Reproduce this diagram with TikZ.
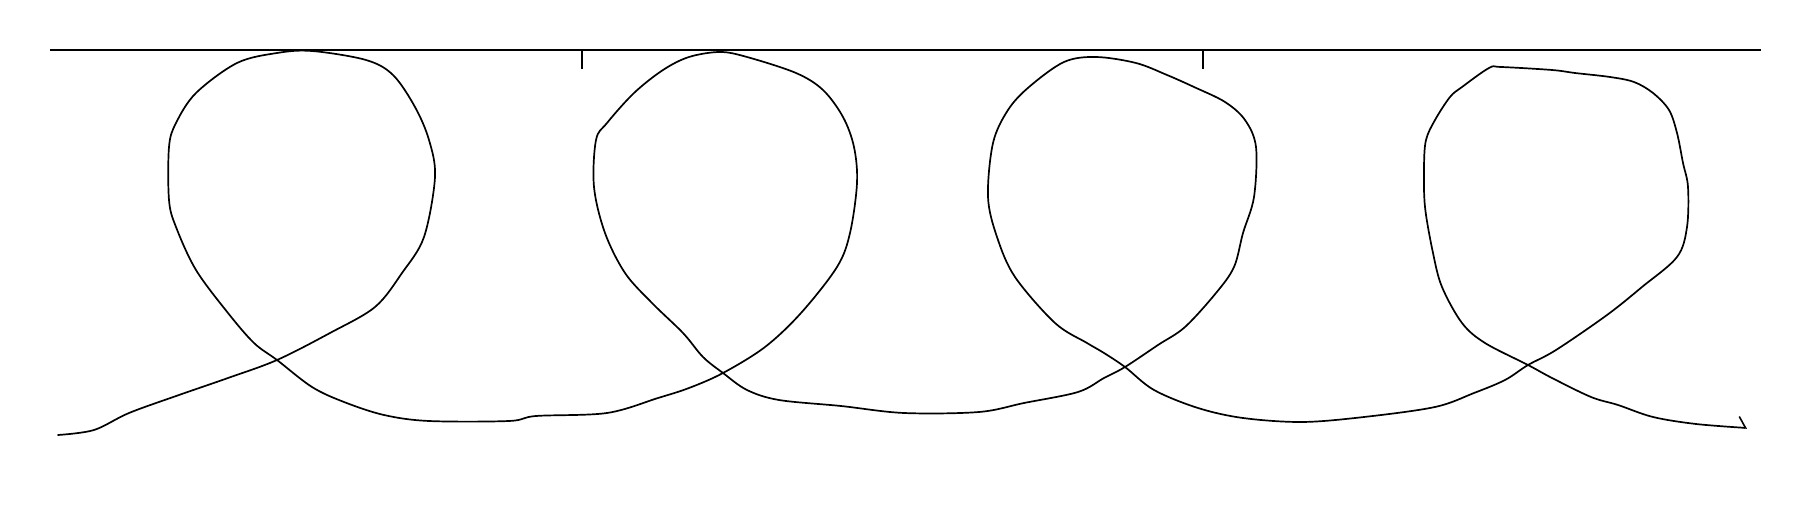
\documentclass[tikz,border=0pt]{standalone}
\usepackage{tikz}
\usetikzlibrary{arrows.meta}
\tikzset{
  rail/.style={draw=black, line width=1.9pt},
  tickmark/.style={draw=black, line width=1.7pt},
  loopcurve/.style={draw=black, line width=1.7pt, line join=round, line cap=round,
    -{Straight Barb[harpoon, length=7pt, width=22pt, line width=1.6pt]}},
}
\begin{document}
\begin{tikzpicture}[x=1pt, y=-1pt]
  \useasboundingbox (0,0) rectangle (1813,510);
  \coordinate (railW) at (50,50);
  \coordinate (railE) at (1761,50);
  \draw[rail] (railW) -- (railE);
  \foreach \tx in {582,1203}
    \draw[tickmark] (\tx,50) -- ++(0,19);
  % the looping stroke
  \draw[loopcurve] plot[smooth, tension=0.55] coordinates {
    (58,435) (94,430) (129,413) (179,395) (228,378) (277,360) (330,333) (375,307)
    (402,273) (424,237) (435,177) (429,140) (415,107) (393,75) (366,60) (312,51)
    (277,53) (237,63) (196,93) (176,123) (169,147) (169,200) (176,227) (196,270)
    (228,313) (254,343) (277,360) (312,387) (344,402) (384,415) (429,421) (509,421)
    (536,416) (607,413) (658,398) (689,388) (723,373) (765,347) (801,313) (837,267)
    (850,233) (857,183) (854,147) (843,117) (823,90) (796,73) (747,57) (720,52)
    (689,57) (663,70) (634,93) (607,123) (596,140) (594,187) (605,233) (625,273)
    (652,303) (683,333) (703,357) (723,373) (747,390) (779,400) (841,406) (904,413)
    (979,412) (1024,403) (1078,392) (1104,378) (1125,367) (1158,345) (1185,327)
    (1216,293) (1234,267) (1243,233) (1254,197) (1256,147) (1245,120) (1225,102)
    (1194,87) (1167,75) (1136,63) (1096,57) (1064,62) (1029,87) (1008,110) (993,143)
    (988,197) (997,237) (1015,277) (1055,323) (1087,343) (1104,353) (1125,367)
    (1154,390) (1198,408) (1243,418) (1302,422) (1364,417) (1435,407) (1474,393)
    (1505,380) (1528,365) (1556,350) (1607,315) (1642,287) (1677,257) (1687,227)
    (1688,187) (1683,163) (1677,133) (1669,110) (1653,93) (1634,82) (1610,77)
    (1575,73) (1552,70) (1501,67) (1489,68) (1462,87) (1450,97) (1435,120)
    (1426,140) (1424,167) (1425,207) (1433,253) (1442,287) (1462,323) (1485,343)
    (1528,365) (1552,378) (1591,397) (1618,405) (1653,417) (1696,424) (1747,428)};
\end{tikzpicture}
\end{document}
